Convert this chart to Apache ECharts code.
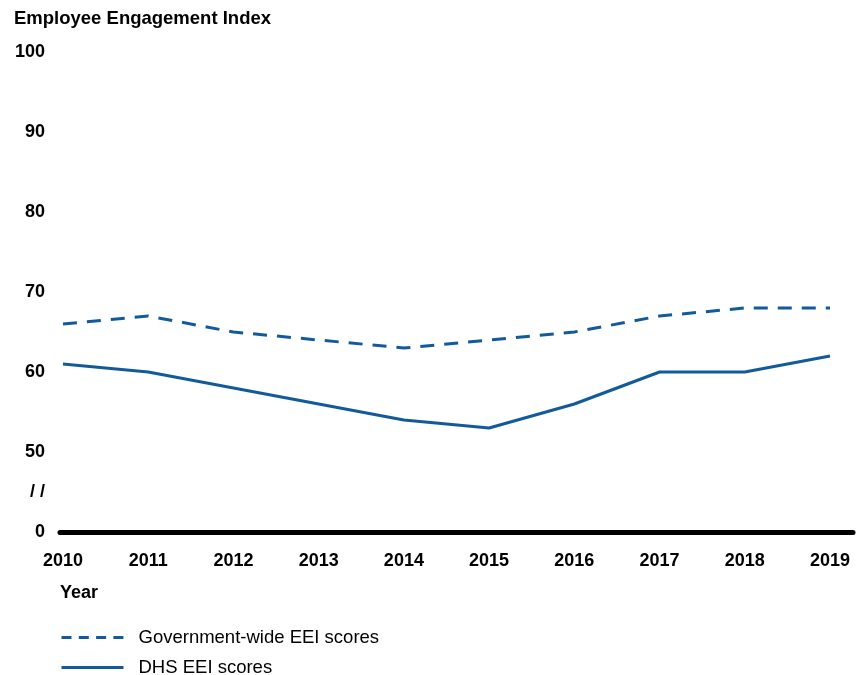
<!DOCTYPE html>
<html><head><meta charset="utf-8">
<script src="https://cdn.jsdelivr.net/npm/echarts@6/dist/echarts.min.js"></script>
<style>html,body{margin:0;padding:0;background:#fff}#c{width:856px;height:675px}</style>
</head><body><div id="c"></div>
<script>
const years = ['2010','2011','2012','2013','2014','2015','2016','2017','2018','2019'];
const govWide = [66,67,65,64,63,64,65,67,68,68];
const dhs = [61,60,58,56,54,53,56,60,60,62];
const yTickLabels = {40:'0',45:'/ /',50:'50',60:'60',70:'70',80:'80',90:'90',100:'100'};
const seriesNames = ['Government-wide EEI scores','DHS EEI scores'];
const blue = '#135a9c';
const font = 'Liberation Sans, Arial, sans-serif';
const chart = echarts.init(document.getElementById('c'));
const legendBase = {orient:'vertical',left:55,itemWidth:62,itemHeight:14,
    itemStyle:{opacity:0},
    textStyle:{fontFamily:font,fontSize:18.5,color:'#000',padding:[0,0,0,10]}};
chart.setOption({
  animation:false,
  textStyle:{fontFamily:font},
  title:{text:'Employee Engagement Index',left:9,top:4,textStyle:{fontFamily:font,fontSize:18.5,fontWeight:'bold',color:'#000'}},
  graphic:[{type:'text',left:60,top:584,style:{text:'Year',fontFamily:font,fontSize:18,fontWeight:'bold',fill:'#000'}}],
  legend:[Object.assign({},legendBase,{top:623,data:[seriesNames[0]],lineStyle:{type:[10,7.3],width:3}}),
          Object.assign({},legendBase,{top:653,data:[seriesNames[1]],lineStyle:{width:3}})],
  grid:[{left:63,right:26,top:52,bottom:143},{left:60,right:3,top:520,bottom:143}],
  xAxis:[{type:'category',data:years,boundaryGap:false,gridIndex:0,
    axisLine:{show:false},axisTick:{show:false},
    axisLabel:{margin:20,fontSize:18,fontWeight:'bold',color:'#000',fontFamily:font}},
    {type:'value',gridIndex:1,min:0,max:1,axisLine:{show:true,lineStyle:{color:'#000',width:5}},
     axisTick:{show:false},axisLabel:{show:false},splitLine:{show:false}}],
  yAxis:[{type:'value',min:40,max:100,interval:5,gridIndex:0,
    axisLine:{show:false},axisTick:{show:false},splitLine:{show:false},
    axisLabel:{margin:18,fontSize:18,fontWeight:'bold',color:'#000',fontFamily:font,
      formatter:v=>yTickLabels[v]!==undefined?yTickLabels[v]:''}},
    {type:'value',gridIndex:1,show:false}],
  series:[
    {name:seriesNames[0],type:'line',data:govWide,symbol:'none',
      lineStyle:{color:blue,width:3,type:[14,10]},itemStyle:{color:blue}},
    {name:seriesNames[1],type:'line',data:dhs,symbol:'none',
      lineStyle:{color:blue,width:3},itemStyle:{color:blue}}
  ]
});
</script></body></html>
